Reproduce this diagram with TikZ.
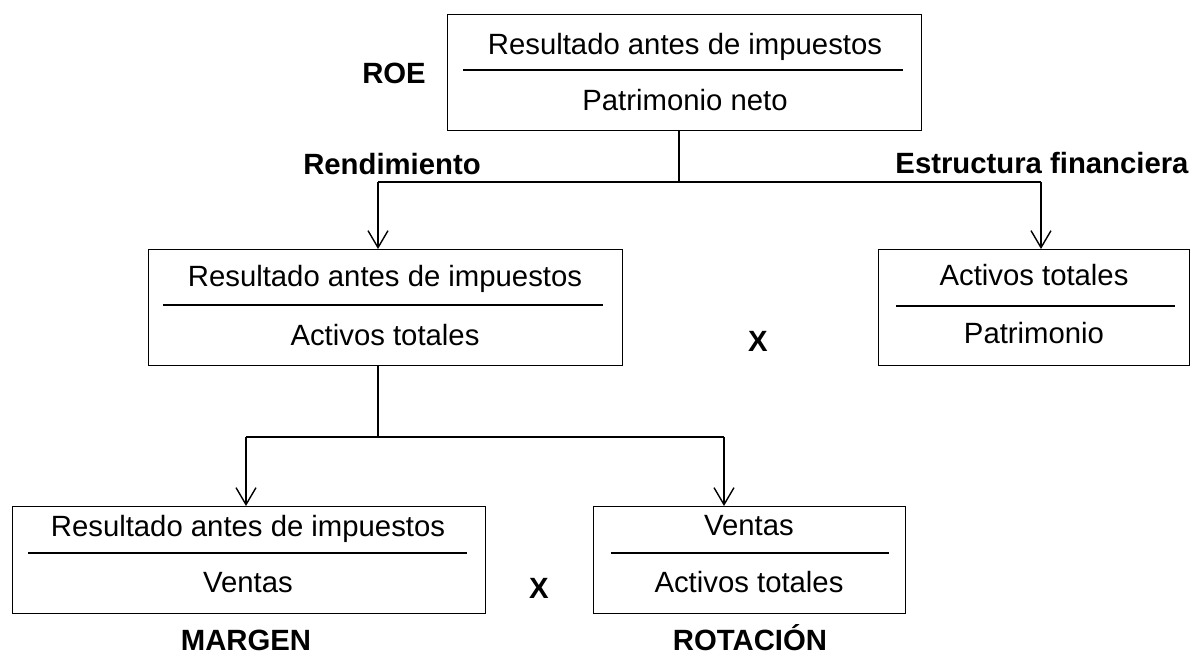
\documentclass[tikz,border=0pt]{standalone}
\usepackage{fontspec}
\setmainfont{Liberation Sans}
\usetikzlibrary{arrows.meta}
\newcommand\myfs{\fontsize{29.3}{35}\selectfont}
\tikzset{
  box/.style={draw, line width=1.4pt, inner sep=0pt, anchor=north west},
  txt/.style={inner sep=0pt, anchor=base, font=\myfs},
  lbl/.style={inner sep=0pt, anchor=base, font=\myfs\bfseries},
  sepline/.style={line width=1.6pt},
  conn/.style={line width=1.4pt},
  arr/.style={conn, -{Straight Barb[length=17pt,width=20pt,line width=1.4pt]}}
}
\begin{document}
\begin{tikzpicture}[x=1pt,y=-1pt]
\useasboundingbox (0,0) rectangle (1191,656);
% boxes
\node[box, minimum width=474pt, minimum height=116pt] (b0) at (447,14) {};
\node[box, minimum width=474pt, minimum height=116pt] (b1) at (148,249) {};
\node[box, minimum width=311pt, minimum height=116pt] (b2) at (878,249) {};
\node[box, minimum width=473pt, minimum height=107pt] (b3) at (12,506) {};
\node[box, minimum width=312pt, minimum height=107pt] (b4) at (593,506) {};
% top box texts
\node[txt] (t0a) at (685,54) {Resultado antes de impuestos};
\draw[sepline] (463,70) -- (903,70);
\node[txt] (t0b) at (685,110) {Patrimonio neto};
% middle-left
\node[txt] (t1a) at (385,286) {Resultado antes de impuestos};
\draw[sepline] (163,305) -- (603,305);
\node[txt] (t1b) at (385,345) {Activos totales};
% right
\node[txt] (t2a) at (1034,285) {Activos totales};
\draw[sepline] (896,306) -- (1175,306);
\node[txt] (t2b) at (1034,343) {Patrimonio};
% bottom-left
\node[txt] (t3a) at (248,536) {Resultado antes de impuestos};
\draw[sepline] (28,553) -- (467,553);
\node[txt] (t3b) at (248,592) {Ventas};
% bottom-right
\node[txt] (t4a) at (749,535) {Ventas};
\draw[sepline] (611,553) -- (889,553);
\node[txt] (t4b) at (749,592) {Activos totales};
% labels
\node[lbl] (roe) at (394,83) {ROE};
\node[lbl] (rend) at (392,174) {Rendimiento};
\node[lbl] (estr) at (1042,173) {Estructura financiera};
\node[lbl] (x1) at (758,351) {X};
\node[lbl] (x2) at (539,598) {X};
\node[lbl] (marg) at (246,650) {MARGEN};
\node[lbl] (rot) at (750,650) {ROTACIÓN};
% connectors
\coordinate (j0) at (679,182);
\coordinate (j0l) at (378,182);
\coordinate (j0r) at (1041,182);
\draw[conn] (b0.south -| j0) -- (j0);
\draw[conn] (j0l) -- (j0r);
\draw[arr] (j0l) -- (j0l |- b1.north);
\draw[arr] (j0r) -- (j0r |- b2.north);
\coordinate (j1) at (378,437);
\coordinate (j1l) at (246,437);
\coordinate (j1r) at (724,437);
\draw[conn] (b1.south -| j1) -- (j1);
\draw[conn] (j1l) -- (j1r);
\draw[arr] (j1l) -- (j1l |- b3.north);
\draw[arr] (j1r) -- (j1r |- b4.north);
\end{tikzpicture}
\end{document}
